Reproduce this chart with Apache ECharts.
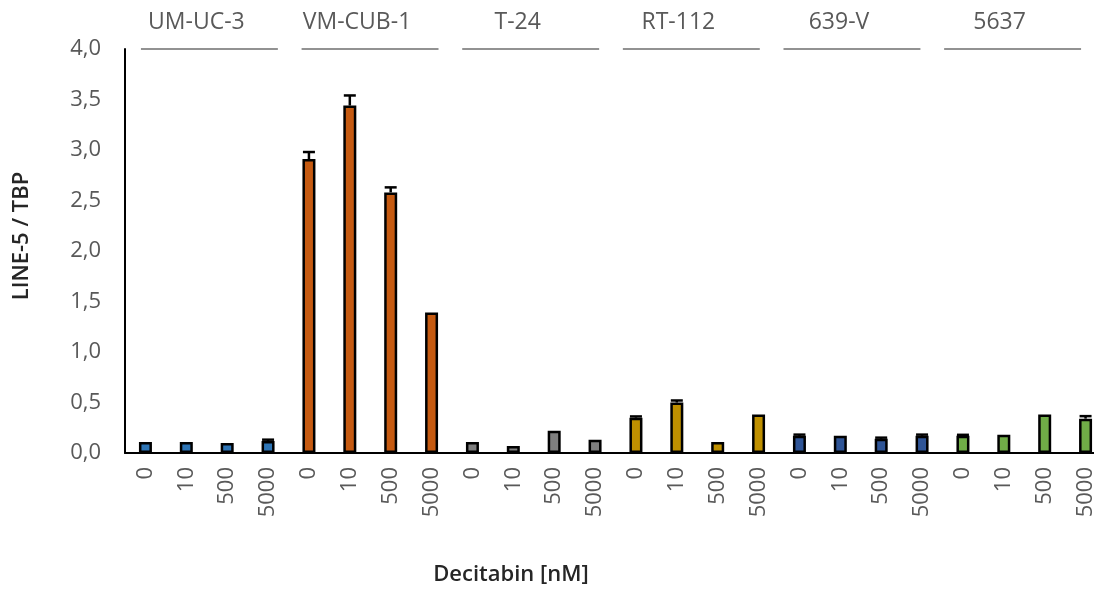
<!DOCTYPE html>
<html>
<head>
<meta charset="utf-8">
<script src="https://cdn.jsdelivr.net/npm/echarts@6/dist/echarts.min.js"></script>
<style>
  html, body { margin: 0; padding: 0; background: #fff; }
  #chart { width: 1094px; height: 589px; }
</style>
</head>
<body>
<div id="chart"></div>
<script>
var cellLines = ['UM-UC-3', 'VM-CUB-1', 'T-24', 'RT-112', '639-V', '5637'];
var doses = ['0', '10', '500', '5000'];
var groupColors = ['#2e75b6', '#c55a11', '#7f7f7f', '#bf9000', '#2f5597', '#70ad47'];

// LINE-5 / TBP, mean per bar (cell line x dose)
var means = [
    0.11, 0.11, 0.10, 0.12,
    2.91, 3.44, 2.58, 1.39,
    0.11, 0.07, 0.22, 0.13,
    0.35, 0.50, 0.11, 0.38,
    0.17, 0.17, 0.14, 0.17,
    0.17, 0.18, 0.38, 0.34
];
// upper error bars
var errors = [
    0, 0, 0, 0.012,
    0.07, 0.10, 0.05, 0,
    0, 0, 0, 0,
    0.012, 0.02, 0, 0,
    0.012, 0, 0.012, 0.012,
    0.01, 0, 0, 0.025
];
var yTicks = [0, 0.5, 1, 1.5, 2, 2.5, 3, 3.5, 4];

var categories = [];
cellLines.forEach(function (line) {
    doses.forEach(function (d) {
        categories.push(d);
    });
});

var font = 'Open Sans';
var myChart = echarts.init(document.getElementById('chart'));

var option = {
    animation: false,
    backgroundColor: '#fff',
    grid: {left: 125, top: 49, width: 981, height: 404, outerBoundsMode: 'none', containLabel: false},
    xAxis: [{
        type: 'category',
        data: categories,
        axisTick: {show: false},
        axisLine: {lineStyle: {color: '#000', width: 2}},
        axisLabel: {
            interval: 0,
            rotate: 90,
            margin: 14,
            fontSize: 22,
            fontFamily: font,
            color: '#595959'
        }
    }, {
        // hidden helper axis for the group lines
        type: 'value',
        min: -0.5,
        max: 23.5,
        show: false
    }],
    yAxis: {
        type: 'value',
        min: yTicks[0],
        max: yTicks[yTicks.length - 1],
        interval: 0.5,
        splitLine: {show: false},
        axisTick: {show: false},
        axisLine: {show: true, onZero: false, lineStyle: {color: '#000', width: 2}},
        axisLabel: {
            margin: 24,
            fontSize: 22,
            fontFamily: font,
            color: '#595959',
            formatter: function (v) {
                return v.toFixed(1).replace('.', ',');
            }
        }
    },
    graphic: [{
        type: 'text',
        x: 22,
        y: 236,
        rotation: Math.PI / 2,
        style: {
            text: 'LINE-5 / TBP',
            font: '600 22px "Open Sans"',
            fill: '#262626',
            align: 'center',
            verticalAlign: 'middle'
        }
    }, {
        type: 'text',
        x: 511,
        y: 575,
        style: {
            text: 'Decitabin [nM]',
            font: '600 22px "Open Sans"',
            fill: '#262626',
            align: 'center',
            verticalAlign: 'middle'
        }
    }],
    series: [{
        type: 'bar',
        data: means,
        barWidth: 13,
        itemStyle: {
            borderColor: '#000',
            borderWidth: 2.5,
            color: function (p) {
                return groupColors[Math.floor(p.dataIndex / 4)];
            }
        }
    }, {
        type: 'custom',
        data: means.map(function (m, i) { return [i, m, errors[i]]; }),
        renderItem: function (params, api) {
            var err = api.value(2);
            if (!err) return null;
            var base = api.coord([api.value(0), api.value(1)]);
            var top = api.coord([api.value(0), api.value(1) + err]);
            return {
                type: 'group',
                children: [{
                    type: 'line',
                    shape: {x1: base[0], y1: base[1], x2: top[0], y2: top[1]},
                    style: {stroke: '#000', lineWidth: 2.5}
                }, {
                    type: 'line',
                    shape: {x1: top[0] - 6, y1: top[1], x2: top[0] + 6, y2: top[1]},
                    style: {stroke: '#000', lineWidth: 2.5}
                }]
            };
        },
        z: 5
    }, {
        type: 'custom',
        xAxisIndex: 1,
        clip: false,
        data: cellLines.map(function (n, i) { return [i]; }),
        renderItem: function (params, api) {
            var g = params.dataIndex;
            var start = -0.11 + g * 3.93;
            var p1 = api.coord([start, 4]);
            var p2 = api.coord([start + 3.35, 4]);
            return {
                type: 'group',
                children: [{
                    type: 'line',
                    shape: {x1: p1[0], y1: p1[1], x2: p2[0], y2: p2[1]},
                    style: {stroke: '#262626', lineWidth: 1.2}
                }, {
                    type: 'text',
                    x: (p1[0] + p2[0]) / 2 - 13,
                    y: p1[1] - 27,
                    style: {
                        text: cellLines[g],
                        font: '23px "Open Sans"',
                        fill: '#595959',
                        align: 'center',
                        verticalAlign: 'middle'
                    }
                }]
            };
        }
    }]
};

myChart.setOption(option);
</script>
</body>
</html>
